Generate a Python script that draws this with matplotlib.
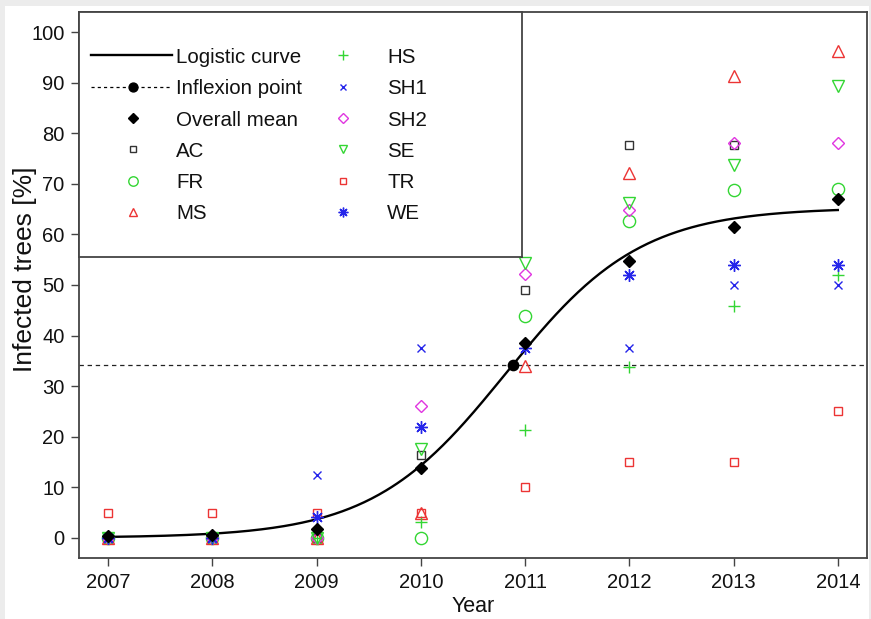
import numpy as np
import matplotlib
matplotlib.use("Agg")
import matplotlib.pyplot as plt
from matplotlib.patches import Rectangle

plt.rcParams['font.family'] = ['Liberation Sans', 'DejaVu Sans']

# ---- data -------------------------------------------------------------
years = [2007, 2008, 2009, 2010, 2011, 2012, 2013, 2014]

overall_mean = [0.3, 0.5, 1.8, 13.8, 38.6, 54.7, 61.4, 67.0]
AC  = [0, 0, 0, 16.4, 49.0, 77.6, 77.6, np.nan]
FR  = [0, 0, 0, 0.0, 43.8, 62.6, 68.8, 68.9]
MS  = [0, 0, 0, 5.0, 33.9, 72.1, 91.4, 96.2]
HS  = [0, 0, 0, 3.1, 21.4, 33.7, 45.9, 52.0]
SH1 = [0, 0, 12.5, 37.5, 37.5, 37.6, 50.0, 50.0]
SH2 = [0, 0, 0, 26.0, 52.1, 64.9, 78.1, 78.0]
SE  = [0, 0, 0, 17.6, 54.4, 66.3, 73.8, 89.4]
TR  = [5, 5, 5, 5.0, 10.0, 15.0, 15.0, 25.0]
WE  = [0, 0, 4.2, 22.0, 37.5, 52.0, 53.9, 53.9]

# fitted logistic model
logit_K = 65.3      # upper asymptote
logit_r = 1.55      # growth rate per year
logit_t0 = 2010.82  # midpoint

inflexion_year = 2010.88
inflexion_value = 34.2

y_ticks = [0, 10, 20, 30, 40, 50, 60, 70, 80, 90, 100]

# ---- styles -----------------------------------------------------------
GREEN = '#33d633'
RED = '#ec3434'
BLUE = '#2525ea'
MAGENTA = '#e035e0'
DARK = '#333333'
ASTER = (8, 2, 0)

# (label, values, marker, colour, size in plot, size in key)
sites = [
    ('AC',  AC,  's', DARK,    6.0, 4.8),
    ('FR',  FR,  'o', GREEN,   8.8, 6.8),
    ('MS',  MS,  '^', RED,     8.0, 6.4),
    ('HS',  HS,  '+', GREEN,   8.8, 7.0),
    ('SH1', SH1, 'x', BLUE,    6.4, 5.0),
    ('SH2', SH2, 'D', MAGENTA, 6.0, 4.8),
    ('SE',  SE,  'v', GREEN,   8.0, 6.4),
    ('TR',  TR,  's', RED,     6.0, 4.8),
    ('WE',  WE,  ASTER, BLUE,  9.0, 7.0),
]

W, H = 871, 619
fig = plt.figure(figsize=(W / 100, H / 100), dpi=100, facecolor='#ececec')
fig.patches.append(Rectangle((5 / W, 0), (869 - 5) / W, (H - 6) / H,
                             transform=fig.transFigure, facecolor='white',
                             edgecolor='none', zorder=-10))

ax_l, ax_r, ax_t, ax_b = 79, 867, 12, 558
ax = fig.add_axes([ax_l / W, 1 - ax_b / H, (ax_r - ax_l) / W, (ax_b - ax_t) / H],
                  zorder=1)
ax.set_facecolor('white')

ax.set_xlim(2006.72, 2014.28)
ax.set_ylim(-4, 104)

FRAME = '#444444'
for s in ax.spines.values():
    s.set_color(FRAME)
    s.set_linewidth(1.3)

ax.set_xticks(years)
ax.set_xticklabels([str(y) for y in years])
ax.set_yticks(y_ticks)
ax.set_yticklabels([str(v) for v in y_ticks])
ax.tick_params(axis='both', direction='out', length=6, width=1.0,
               color=FRAME, labelsize=14.5, labelcolor='#111111', pad=4.5)

ax.set_xlabel('Year', fontsize=15.5, color='#111111', labelpad=3)
ax.set_ylabel('Infected trees [%]', fontsize=19, color='#111111')
ax.yaxis.set_label_coords((37 - ax_l) / (ax_r - ax_l),
                          (ax_b - 269) / (ax_b - ax_t))

# horizontal reference at the inflexion value
ax.axhline(inflexion_value, color='#222222', lw=0.9, ls=(0, (3.5, 3)), zorder=2)

# logistic curve
t = np.linspace(years[0], years[-1], 400)
curve = logit_K / (1 + np.exp(-logit_r * (t - logit_t0)))
ax.plot(t, curve, color='black', lw=1.7, zorder=3)

# site series
for name, vals, mk, col, ms, _ in sites:
    filled = mk in ('+', 'x') or mk == ASTER
    ax.plot(years, vals, ls='none', marker=mk, ms=ms,
            markerfacecolor=(col if filled else 'none'),
            markeredgecolor=col, markeredgewidth=1.0, zorder=4)

ax.plot(years, overall_mean, ls='none', marker='D', ms=5.8,
        color='black', zorder=5)
ax.plot([inflexion_year], [inflexion_value], ls='none', marker='o', ms=7.4,
        color='black', zorder=5)

# ---- key box (pixel layout) -------------------------------------------
kx0, kx1, ky0, ky1 = 79, 522, 12, 257
lax = fig.add_axes([kx0 / W, 1 - ky1 / H, (kx1 - kx0) / W, (ky1 - ky0) / H],
                   zorder=10)
lax.set_xlim(kx0, kx1)
lax.set_ylim(ky1, ky0)
lax.set_xticks([])
lax.set_yticks([])
lax.set_facecolor('white')
for s in lax.spines.values():
    s.set_color(FRAME)
    s.set_linewidth(1.3)

rows = [55, 86.7, 118, 149, 180.5, 211.7]
c1_mark, c1_text = 132.5, 176
c2_mark, c2_text = 343, 387
line_x = [91, 172]
txt_kw = dict(fontsize=14.8, color='#111111', va='baseline', ha='left')
base = 7.6

lax.plot(line_x, [rows[0]] * 2, color='black', lw=1.7)
lax.text(c1_text, rows[0] + base, 'Logistic curve', **txt_kw)

lax.plot(line_x, [rows[1]] * 2, color='black', lw=0.9, ls=(0, (2.5, 2.5)))
lax.plot([c1_mark], [rows[1]], marker='o', ms=6.4, color='black', ls='none')
lax.text(c1_text, rows[1] + base, 'Inflexion point', **txt_kw)

lax.plot([c1_mark], [rows[2]], marker='D', ms=4.8, color='black', ls='none')
lax.text(c1_text, rows[2] + base, 'Overall mean', **txt_kw)

slots = [(c1_mark, c1_text, rows[3]), (c1_mark, c1_text, rows[4]),
         (c1_mark, c1_text, rows[5]), (c2_mark, c2_text, rows[0]),
         (c2_mark, c2_text, rows[1]), (c2_mark, c2_text, rows[2]),
         (c2_mark, c2_text, rows[3]), (c2_mark, c2_text, rows[4]),
         (c2_mark, c2_text, rows[5])]
for (name, _, mk, col, _, kms), (mx, tx, ry) in zip(sites, slots):
    filled = mk in ('+', 'x') or mk == ASTER
    lax.plot([mx], [ry], ls='none', marker=mk, ms=kms,
             markerfacecolor=(col if filled else 'none'),
             markeredgecolor=col, markeredgewidth=1.0)
    lax.text(tx, ry + base, name, **txt_kw)

fig.savefig('out.png', dpi=100, facecolor=fig.get_facecolor())
